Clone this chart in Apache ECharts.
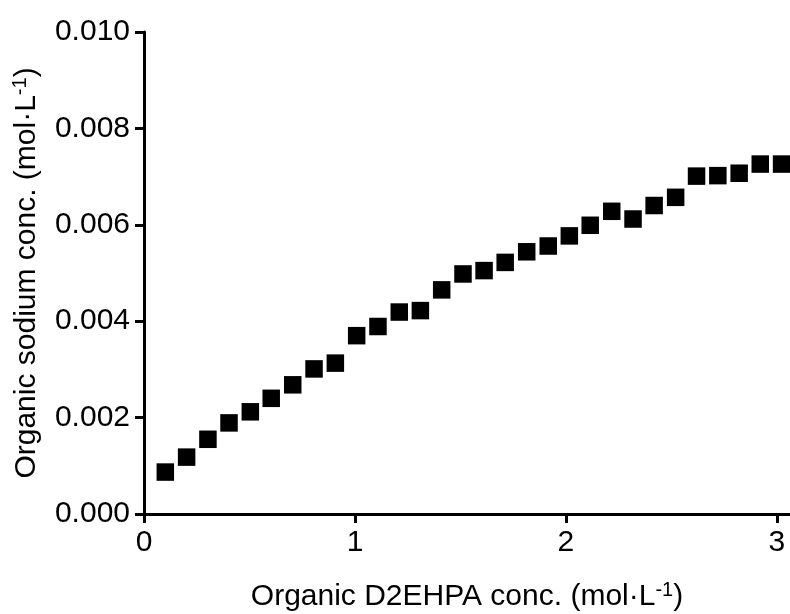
<!DOCTYPE html>
<html lang="en">
<head>
    <meta charset="UTF-8">
    <title>Organic sodium vs D2EHPA</title>
    <script src="https://cdn.jsdelivr.net/npm/echarts@6/dist/echarts.min.js"></script>
    <style>
        html, body { margin: 0; padding: 0; background: #fff; }
        #chart { width: 790px; height: 614px; }
    </style>
</head>
<body>
<div id="chart"></div>
<script type="text/javascript">
    // organic D2EHPA conc. (mol/L)
    var d2ehpa = [0.101, 0.202, 0.303, 0.403, 0.504, 0.603, 0.705, 0.806, 0.907, 1.008,
        1.109, 1.210, 1.310, 1.411, 1.512, 1.612, 1.712, 1.814, 1.916, 2.016,
        2.115, 2.217, 2.318, 2.418, 2.520, 2.619, 2.720, 2.821, 2.921, 3.022];
    // organic sodium conc. (mol/L)
    var sodium = [0.00087, 0.00118, 0.00155, 0.00189, 0.00212, 0.00240, 0.00268, 0.00301, 0.00313, 0.00370,
        0.00389, 0.00419, 0.00422, 0.00465, 0.00498, 0.00505, 0.00522, 0.00544, 0.00556, 0.00577,
        0.00599, 0.00628, 0.00612, 0.00640, 0.00657, 0.00701, 0.00702, 0.00707, 0.00726, 0.00726];
    var xTicks = [0, 1, 2, 3];

    var font = 'Liberation Sans, Arial, sans-serif';
    var chart = echarts.init(document.getElementById('chart'));

    var points = d2ehpa.map(function (x, i) {
        return [x, sodium[i]];
    });

    var nameStyle = {
        fontFamily: font, fontSize: 30, color: '#000', lineHeight: 34,
        rich: { sup: { fontFamily: font, fontSize: 20, lineHeight: 20, verticalAlign: 'top', color: '#000' } }
    };

    var option = {
        backgroundColor: '#fff',
        animation: false,
        grid: { left: 144, right: 0, top: 32, bottom: 100, containLabel: false, outerBoundsMode: 'none' },
        xAxis: {
            type: 'value',
            min: 0,
            max: 3.062,
            name: 'Organic D2EHPA conc. (mol·L{sup|-1})',
            nameLocation: 'middle',
            nameGap: 66,
            nameTextStyle: nameStyle,
            splitLine: { show: false },
            axisLine: { show: true, onZero: false, lineStyle: { color: '#000', width: 3 } },
            axisTick: { show: true, length: 9, lineStyle: { color: '#000', width: 3 }, customValues: xTicks },
            axisLabel: {
                fontFamily: font, fontSize: 30, color: '#000', margin: 14,
                customValues: xTicks
            }
        },
        yAxis: {
            type: 'value',
            min: 0,
            max: 0.01,
            interval: 0.002,
            name: 'Organic sodium conc. (mol·L{sup|-1})',
            nameLocation: 'middle',
            nameGap: 90,
            nameTextStyle: nameStyle,
            splitLine: { show: false },
            axisLine: { show: true, onZero: false, lineStyle: { color: '#000', width: 3 } },
            axisTick: { show: true, length: 9, lineStyle: { color: '#000', width: 3 } },
            axisLabel: {
                fontFamily: font, fontSize: 30, color: '#000', margin: 14,
                formatter: function (v) { return v.toFixed(3); }
            }
        },
        series: [{
            type: 'scatter',
            data: points,
            symbol: 'rect',
            symbolSize: 17.5,
            itemStyle: { color: '#000', opacity: 1 }
        }]
    };

    chart.setOption(option);
</script>
</body>
</html>
